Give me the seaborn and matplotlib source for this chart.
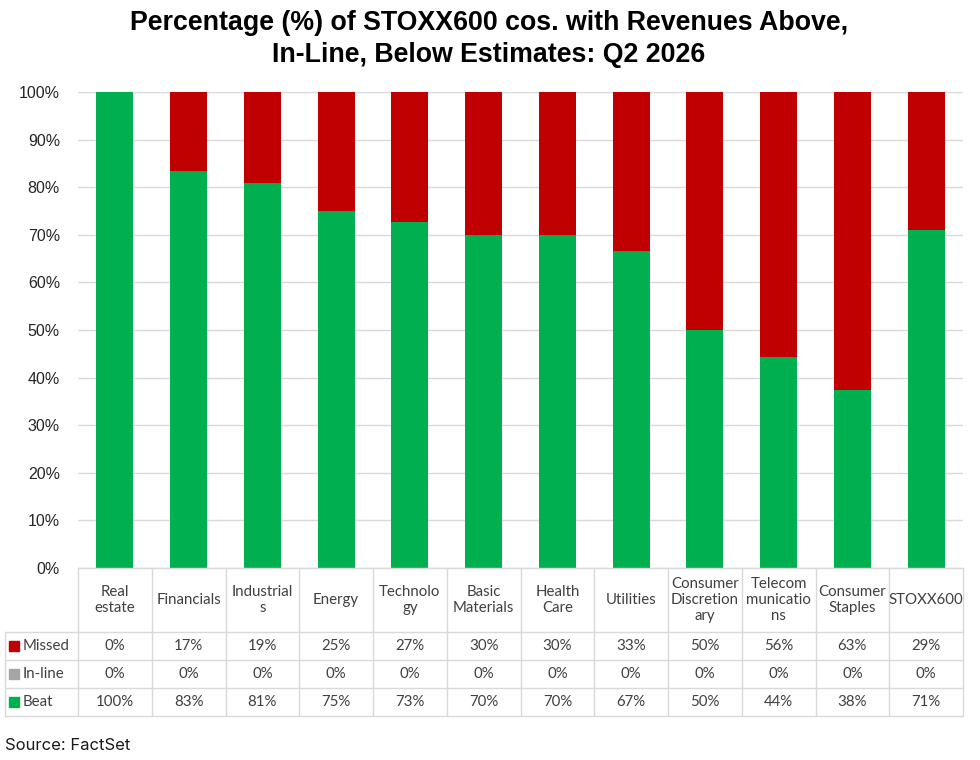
import matplotlib
matplotlib.use("Agg")
import matplotlib.pyplot as plt
import pandas as pd
import seaborn as sns

# sector data, % of companies (Q2 2026 revenue surprises)
categories = ["Real estate", "Financials", "Industrials", "Energy", "Technology",
              "Basic Materials", "Health Care", "Utilities", "Consumer Discretionary",
              "Telecommunications", "Consumer Staples", "STOXX600"]
header_labels = ["Real\nestate", "Financials", "Industrial\ns", "Energy", "Technolo\ngy",
                 "Basic\nMaterials", "Health\nCare", "Utilities", "Consumer\nDiscretion\nary",
                 "Telecom\nmunicatio\nns", "Consumer\nStaples", "STOXX600"]
beat = [100, 83.3, 80.8, 75, 72.7, 70, 70, 66.7, 50, 44.4, 37.5, 71]
inline = [0, 0, 0, 0, 0, 0, 0, 0, 0, 0, 0, 0]
missed = [0, 16.7, 19.2, 25, 27.3, 30, 30, 33.3, 50, 55.6, 62.5, 29]

GREEN = "#00B050"
RED = "#C00000"
GRAY = "#A5A5A5"
LINE = "#D9D9D9"

df = pd.DataFrame({"sector": categories, "beat": beat, "inline": inline, "missed": missed})
df["total"] = df["beat"] + df["inline"] + df["missed"]
df["beat_inline"] = df["beat"] + df["inline"]

sns.set_style("white")
plt.rcParams["font.family"] = ["Liberation Sans", "DejaVu Sans"]

fig = plt.figure(figsize=(9.8, 7.6), dpi=100)
ax = fig.add_axes([78 / 980, 1 - 568 / 760, 885 / 980, 476 / 760])

# stacked bars: draw the full stack, then cover from the bottom up
bar_kw = dict(saturation=1, width=0.5, linewidth=0, ax=ax)
sns.barplot(data=df, x="sector", y="total", color=RED, **bar_kw)
sns.barplot(data=df, x="sector", y="beat_inline", color=GRAY, **bar_kw)
sns.barplot(data=df, x="sector", y="beat", color=GREEN, **bar_kw)

ax.set_xlim(-0.5, len(categories) - 0.5)
ax.set_ylim(0, 100)
ax.set_yticks(range(0, 101, 10))
ax.set_yticklabels([f"{v}%" for v in range(0, 101, 10)], fontsize=11.5, color="#262626")
ax.tick_params(axis="y", length=0, pad=13)
ax.set_xticks([])
ax.set_xlabel("")
ax.set_ylabel("")
ax.grid(axis="y", color=LINE, linewidth=1)
ax.set_axisbelow(True)
for s in ax.spines.values():
    s.set_visible(False)

# data table under the chart
tr = ax.get_xaxis_transform()
n = len(categories)
left_x = -1.49
row_edges = [0, -0.1345, -0.193, -0.252, -0.311]
for k in range(n + 1):
    ax.plot([k - 0.5, k - 0.5], [0, row_edges[-1]], color=LINE, lw=1, transform=tr, clip_on=False)
ax.plot([left_x, left_x], [row_edges[1], row_edges[-1]], color=LINE, lw=1, transform=tr, clip_on=False)
ax.plot([-0.5, n - 0.5], [0, 0], color=LINE, lw=1, transform=tr, clip_on=False)
for y in row_edges[1:]:
    ax.plot([left_x, n - 0.5], [y, y], color=LINE, lw=1, transform=tr, clip_on=False)


def pct(v):
    # Excel-style rounding (half up)
    return f"{int(v + 0.5)}%"


table_font = ["Lato", "DejaVu Sans"]
tcol = "#404040"
for i, lab in enumerate(header_labels):
    ax.text(i, -0.067, lab, transform=tr, ha="center", va="center", fontsize=10.8,
            family=table_font, color=tcol, linespacing=1.2)

rows = [("Missed", missed, RED), ("In-line", inline, GRAY), ("Beat", beat, GREEN)]
centers = [-0.164, -0.223, -0.282]
for (name, vals, col), yc in zip(rows, centers):
    ax.plot([left_x + 0.12], [yc], marker="s", markersize=6.5, color=col, transform=tr, clip_on=False)
    ax.text(left_x + 0.24, yc, name, transform=tr, ha="left", va="center", fontsize=10.8,
            family=table_font, color=tcol)
    for i, v in enumerate(vals):
        ax.text(i, yc, pct(v), transform=tr, ha="center", va="center", fontsize=10.8,
                family=table_font, color=tcol)

fig.text(0.499, 1 - 39 / 760,
         "Percentage (%) of STOXX600 cos. with Revenues Above,\nIn-Line, Below Estimates: Q2 2026",
         ha="center", va="center", fontsize=19.3, fontweight="bold", linespacing=1.32,
         color="black", family=["Liberation Sans", "DejaVu Sans"])
fig.text(5 / 980, 1 - 745 / 760, "Source: FactSet", ha="left", va="center", fontsize=12,
         family=["Inter", "DejaVu Sans"], color="#1a1a1a")

fig.savefig("out.png", dpi=100)
